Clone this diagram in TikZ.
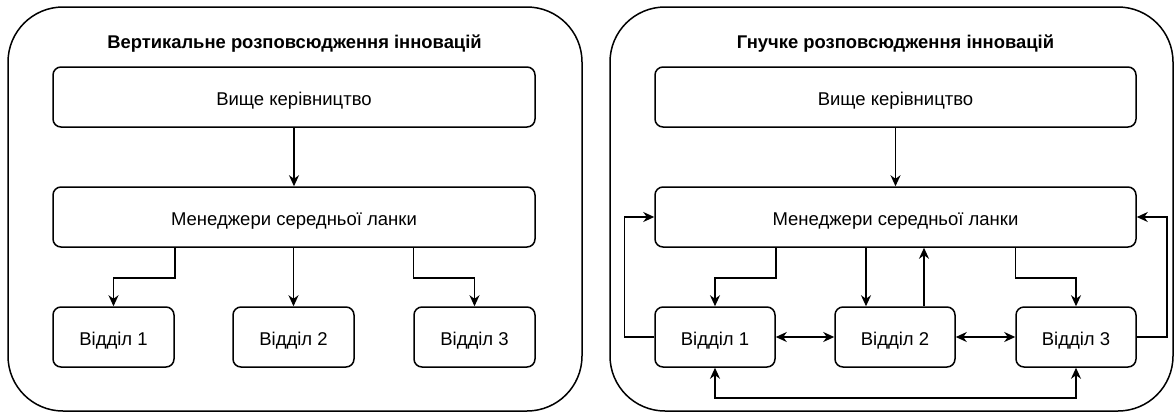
\documentclass[tikz,border=0pt]{standalone}
\usepackage{fontspec}
\setmainfont{Liberation Sans}
\usetikzlibrary{arrows.meta,calc}
\begin{document}
\begin{tikzpicture}[x=1pt,y=-1pt,
  line width=1.5pt,
  panel/.style={draw, rounded corners=55pt},
  box/.style={draw, rounded corners=8pt, minimum height=60pt, inner sep=0pt,
     font=\fontsize{18.5}{22}\selectfont, text height=16pt, text depth=0pt},
  wide/.style={box, minimum width=482pt},
  dept/.style={box, minimum width=121pt},
  title/.style={font=\fontsize{18.4}{22}\selectfont\bfseries, anchor=base, inner sep=0pt},
  arr/.style={-{Stealth[length=11pt,width=10pt,inset=3.5pt]}},
  darr/.style={{Stealth[length=11pt,width=10pt,inset=3.5pt]}-{Stealth[length=11pt,width=10pt,inset=3.5pt]}}
]
\useasboundingbox (0,0) rectangle (1175,416);
% ---------- left panel ----------
\draw[panel] (8,7) rectangle (582,411);
\node[title] (ltitle) at (294.5,48) {Вертикальне розповсюдження інновацій};
\node[wide] (ltop) at (294,97) {Вище керівництво};
\node[wide] (lmid) at (294,217) {Менеджери середньої ланки};
\node[dept] (lb1) at (113.5,337) {Відділ 1};
\node[dept] (lb2) at (293.5,337) {Відділ 2};
\node[dept] (lb3) at (474.5,337) {Відділ 3};
\draw[arr] (ltop.south) -- (lmid.north);
\draw[arr] (lmid.south -| lb1.east) -- ++(0,30) -| (lb1.north);
\draw[arr] (lmid.south -| lb2.north) -- (lb2.north);
\draw[arr] (lmid.south -| lb3.west) -- ++(0,30) -| (lb3.north);
% ---------- right panel ----------
\draw[panel] (610,7) rectangle (1173,411);
\node[title] (rtitle) at (895.5,48) {Гнучке розповсюдження інновацій};
\node[wide, minimum width=481pt] (rtop) at (895.5,97) {Вище керівництво};
\node[wide, minimum width=481pt] (rmid) at (895.5,217) {Менеджери середньої ланки};
\node[dept, minimum width=120pt] (rb1) at (715,337) {Відділ 1};
\node[dept, minimum width=120pt] (rb2) at (895,337) {Відділ 2};
\node[dept, minimum width=120pt] (rb3) at (1076,337) {Відділ 3};
\draw[arr] (rtop.south) -- (rmid.north);
\draw[arr] (rmid.south -| rb1.east) -- ++(0,30) -| (rb1.north);
\draw[arr] ([xshift=-29pt]rb2.north |- rmid.south) -- ([xshift=-29pt]rb2.north);
\draw[arr] ([xshift=29pt]rb2.north) -- ([xshift=29pt]rb2.north |- rmid.south);
\draw[arr] (rmid.south -| rb3.west) -- ++(0,30) -| (rb3.north);
\draw[darr] (rb1.east) -- (rb2.west);
\draw[darr] (rb2.east) -- (rb3.west);
\draw[arr] (rb1.west) -- ++(-30,0) |- (rmid.west);
\draw[arr] (rb3.east) -- ++(30,0) |- (rmid.east);
\draw[darr] (rb1.south) -- ++(0,30) -| (rb3.south);
\end{tikzpicture}
\end{document}
